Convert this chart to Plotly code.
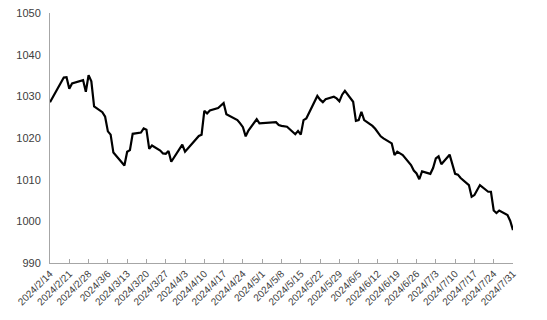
import plotly.graph_objects as go

dates = [
    "2024-02-14", "2024-02-19", "2024-02-20", "2024-02-21", "2024-02-22", "2024-02-23",
    "2024-02-26", "2024-02-27", "2024-02-28", "2024-02-29", "2024-03-01",
    "2024-03-04", "2024-03-05", "2024-03-06", "2024-03-07", "2024-03-08",
    "2024-03-11", "2024-03-12", "2024-03-13", "2024-03-14", "2024-03-15",
    "2024-03-18", "2024-03-19", "2024-03-20", "2024-03-21", "2024-03-22",
    "2024-03-25", "2024-03-26", "2024-03-27", "2024-03-28", "2024-03-29",
    "2024-04-02", "2024-04-03", "2024-04-08", "2024-04-09", "2024-04-10",
    "2024-04-11", "2024-04-12", "2024-04-15", "2024-04-16", "2024-04-17",
    "2024-04-18", "2024-04-19", "2024-04-22", "2024-04-23", "2024-04-24",
    "2024-04-25", "2024-04-26", "2024-04-29", "2024-04-30", "2024-05-06",
    "2024-05-07", "2024-05-08", "2024-05-09", "2024-05-10", "2024-05-13",
    "2024-05-14", "2024-05-15", "2024-05-16", "2024-05-17", "2024-05-20",
    "2024-05-21", "2024-05-22", "2024-05-23", "2024-05-24", "2024-05-27",
    "2024-05-28", "2024-05-29", "2024-05-30", "2024-05-31", "2024-06-03",
    "2024-06-04", "2024-06-05", "2024-06-06", "2024-06-07", "2024-06-10",
    "2024-06-11", "2024-06-12", "2024-06-13", "2024-06-14", "2024-06-17",
    "2024-06-18", "2024-06-19", "2024-06-20", "2024-06-21", "2024-06-24",
    "2024-06-25", "2024-06-26", "2024-06-27", "2024-06-28", "2024-07-01",
    "2024-07-02", "2024-07-03", "2024-07-04", "2024-07-05", "2024-07-08",
    "2024-07-09", "2024-07-10", "2024-07-11", "2024-07-12", "2024-07-15",
    "2024-07-16", "2024-07-17", "2024-07-18", "2024-07-19", "2024-07-22",
    "2024-07-23", "2024-07-24", "2024-07-25", "2024-07-26", "2024-07-29",
    "2024-07-30", "2024-07-31",
]

values = [
    1028.6, 1034.5, 1034.6, 1031.8, 1033.1, 1033.3,
    1033.9, 1031.1, 1035.1, 1033.6, 1027.6,
    1026.2, 1025.1, 1021.6, 1020.8, 1016.5,
    1014.2, 1013.4, 1016.7, 1017.1, 1021.0,
    1021.3, 1022.3, 1022.0, 1017.4, 1018.2,
    1017.0, 1016.3, 1016.2, 1016.9, 1014.3,
    1018.4, 1016.7, 1020.5, 1020.8, 1026.5,
    1025.9, 1026.6, 1027.2, 1027.8, 1028.4,
    1025.7, 1025.3, 1024.3, 1023.5, 1022.6,
    1020.4, 1021.8, 1024.5, 1023.5, 1023.8,
    1023.1, 1022.9, 1022.8, 1022.7, 1020.9,
    1021.7, 1020.8, 1024.3, 1024.7, 1028.5,
    1030.1, 1029.2, 1028.6, 1029.3, 1029.9,
    1029.5, 1028.8, 1030.4, 1031.3, 1028.7,
    1024.1, 1024.3, 1026.3, 1024.3, 1022.9,
    1022.2, 1021.3, 1020.4, 1019.9, 1018.7,
    1015.9, 1016.7, 1016.3, 1015.9, 1013.5,
    1012.2, 1011.5, 1010.1, 1012.0, 1011.4,
    1012.8, 1015.1, 1015.6, 1013.7, 1016.0,
    1013.5, 1011.4, 1011.2, 1010.4, 1008.7,
    1005.9, 1006.3, 1007.5, 1008.7, 1007.1,
    1007.1, 1002.6, 1002.0, 1002.6, 1001.5,
    1000.1, 997.9,
]

tick_dates = [
    "2024-02-14", "2024-02-21", "2024-02-28", "2024-03-06", "2024-03-13",
    "2024-03-20", "2024-03-27", "2024-04-03", "2024-04-10", "2024-04-17",
    "2024-04-24", "2024-05-01", "2024-05-08", "2024-05-15", "2024-05-22",
    "2024-05-29", "2024-06-05", "2024-06-12", "2024-06-19", "2024-06-26",
    "2024-07-03", "2024-07-10", "2024-07-17", "2024-07-24", "2024-07-31",
]
tick_labels = [
    "2024/2/14", "2024/2/21", "2024/2/28", "2024/3/6", "2024/3/13",
    "2024/3/20", "2024/3/27", "2024/4/3", "2024/4/10", "2024/4/17",
    "2024/4/24", "2024/5/1", "2024/5/8", "2024/5/15", "2024/5/22",
    "2024/5/29", "2024/6/5", "2024/6/12", "2024/6/19", "2024/6/26",
    "2024/7/3", "2024/7/10", "2024/7/17", "2024/7/24", "2024/7/31",
]

y_ticks = [990, 1000, 1010, 1020, 1030, 1040, 1050]

fig = go.Figure()
fig.add_trace(go.Scatter(
    x=dates, y=values, mode="lines",
    line=dict(color="#000000", width=2.2),
    showlegend=False, hoverinfo="skip",
))

axis_gray = "#a6a6a6"
fig.update_layout(
    width=547, height=320,
    margin=dict(l=50, r=34, t=7, b=57),
    paper_bgcolor="white", plot_bgcolor="white",
    font=dict(family="Liberation Sans, Arial, sans-serif", size=10, color="#595959"),
    xaxis=dict(
        type="date",
        range=["2024-02-14", "2024-07-31"],
        tickvals=tick_dates, ticktext=tick_labels,
        tickangle=-45,
        showgrid=False, zeroline=False,
        showline=True, linecolor=axis_gray, linewidth=1,
        ticks="inside", ticklen=4, tickcolor=axis_gray,
        tickfont=dict(size=10, color="#404040"),
    ),
    yaxis=dict(
        range=[990, 1050],
        tickvals=y_ticks,
        showgrid=False, zeroline=False,
        showline=True, linecolor=axis_gray, linewidth=1,
        ticks="", ticklen=0,
        ticklabelstandoff=6,
        tickfont=dict(size=11, color="#404040"),
    ),
)

fig.write_html("out.html")
